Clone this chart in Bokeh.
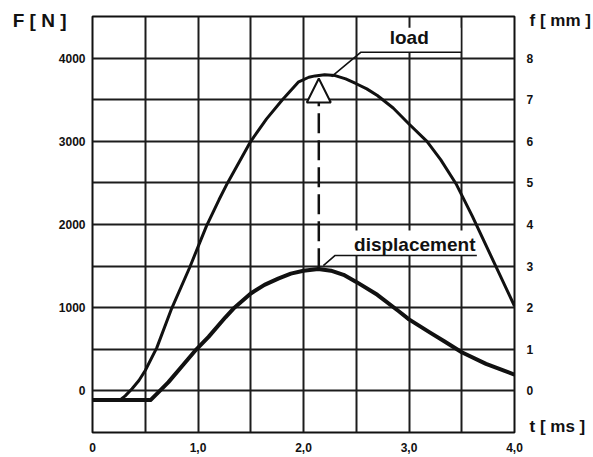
from bokeh.plotting import figure
from bokeh.models import Range1d, LinearAxis, FixedTicker, Label, Arrow, NormalHead
from bokeh.embed import file_html
from bokeh.resources import INLINE
import numpy as np

# ---------------- data ----------------
# load F [N] versus time t [ms]
load_t = [0.0, 0.1, 0.2, 0.265, 0.31, 0.375, 0.44, 0.5, 0.61, 0.75, 0.92, 1.08, 1.2,
          1.28, 1.5, 1.65, 1.8, 1.95, 2.05, 2.11, 2.2, 2.3, 2.4, 2.5, 2.6, 2.7,
          2.85, 3.0, 3.17, 3.3, 3.45, 3.6, 3.8, 4.0]
load_n = [-110, -110, -110, -105, -60, 25, 125, 245, 520, 990, 1480, 1980, 2300,
          2500, 3000, 3270, 3500, 3710, 3770, 3786, 3800, 3790, 3750, 3692, 3630, 3551,
          3400, 3208, 3000, 2780, 2480, 2100, 1560, 1020]

# displacement f [mm] versus time t [ms]
disp_t = [0.0, 0.3, 0.55, 0.626, 0.72, 0.85, 0.985, 1.1, 1.26, 1.345, 1.5, 1.63,
          1.76, 1.88, 2.0, 2.14, 2.26, 2.38, 2.5, 2.7, 2.9, 3.0, 3.2, 3.33, 3.5,
          3.73, 4.0]
disp_mm = [-0.22, -0.22, -0.22, -0.03, 0.21, 0.6, 1.0, 1.3, 1.77, 2.0, 2.34, 2.55,
           2.70, 2.82, 2.89, 2.93, 2.89, 2.79, 2.62, 2.31, 1.92, 1.72, 1.40, 1.20, 0.93,
           0.65, 0.39]

x_tick_values = [0, 1, 2, 3, 4]
x_tick_labels = ["0", "1,0", "2,0", "3,0", "4,0"]
f_tick_values = [0, 1000, 2000, 3000, 4000]
mm_tick_values = [0, 1, 2, 3, 4, 5, 6, 7, 8]

# axis titles
f_title = "F [ N ]"
mm_title = "f [ mm ]"
t_title = "t [ ms ]"

# ---------------- figure ----------------
INK = "#111111"
FONT = "Liberation Sans"

p = figure(width=593, height=457,
           x_range=Range1d(0, 4), y_range=Range1d(-500, 4500),
           output_backend="svg", toolbar_location=None,
           min_border_left=92, min_border_right=75,
           min_border_top=16, min_border_bottom=25,
           background_fill_color="white", border_fill_color="white")
p.extra_y_ranges = {"mm": Range1d(-1, 9)}

p.outline_line_color = INK
p.outline_line_width = 2

p.xgrid.ticker = FixedTicker(ticks=list(np.arange(0, 4.01, 0.5)))
p.ygrid.ticker = FixedTicker(ticks=list(np.arange(-500, 4501, 500)))
for g in (p.xgrid, p.ygrid):
    g.grid_line_color = "#1c1c1c"
    g.grid_line_width = 2
    g.grid_line_alpha = 1.0

def style_axis(ax, standoff, size="12px"):
    ax.axis_line_color = None
    ax.major_tick_line_color = None
    ax.minor_tick_line_color = None
    ax.major_tick_in = 0
    ax.major_tick_out = 0
    ax.minor_tick_in = 0
    ax.minor_tick_out = 0
    ax.major_label_text_font = FONT
    ax.major_label_text_font_style = "bold"
    ax.major_label_text_font_size = size
    ax.major_label_text_color = INK
    ax.major_label_standoff = standoff

p.xaxis.ticker = FixedTicker(ticks=x_tick_values)
p.xaxis.major_label_overrides = {v: s for v, s in zip(x_tick_values, x_tick_labels)}
style_axis(p.xaxis[0], 10)

p.yaxis.ticker = FixedTicker(ticks=f_tick_values)
style_axis(p.yaxis[0], 7)

right = LinearAxis(y_range_name="mm", ticker=FixedTicker(ticks=mm_tick_values))
style_axis(right, 12)
p.add_layout(right, "right")

# axis titles, written as the single labels of outer axes
f_pos = 4452      # N, level of the "F [ N ]" title
mm_pos = 8.904    # mm, level of the "f [ mm ]" title
t_pos = -0.844    # mm, level of the "t [ ms ]" title

left_title = LinearAxis(ticker=FixedTicker(ticks=[f_pos]))
left_title.major_label_overrides = {f_pos: f_title}
style_axis(left_title, -11, "19px")
p.add_layout(left_title, "left")

right_title = LinearAxis(y_range_name="mm", ticker=FixedTicker(ticks=[mm_pos, t_pos]))
right_title.major_label_overrides = {mm_pos: mm_title, t_pos: t_title}
style_axis(right_title, -7, "17px")
p.add_layout(right_title, "right")

# white boxes behind the callout texts (hide the grid)
p.quad(left=[2.545, 2.300], right=[3.488, 3.643], top=[4364, 1928], bottom=[4071, 1628],
       fill_color="white", line_color=None)

# curves
p.line(load_t, load_n, line_color=INK, line_width=3, line_join="round")
p.line(disp_t, disp_mm, y_range_name="mm", line_color=INK, line_width=4, line_join="round")

# callout underlines and leaders
p.line([2.266, 2.545, 3.5], [3778, 4071, 4071], line_color=INK, line_width=1.6)
p.line([2.188, 2.300, 3.643], [1507, 1628, 1628], line_color=INK, line_width=1.6)

# dashed arrow from displacement peak to load peak
p.add_layout(Arrow(end=NormalHead(size=24, fill_color="white", line_color=INK, line_width=2),
                   x_start=2.145, y_start=1475, x_end=2.145, y_end=3755,
                   line_color=INK, line_width=2.5, line_dash="20 7"))

def add_text(x, y, txt, size):
    p.add_layout(Label(x=x, y=y, text=txt,
                       text_font=FONT, text_font_style="bold",
                       text_font_size=size, text_color=INK,
                       text_align="left", text_baseline="alphabetic"))

add_text(2.817, 4253, "load", "19px")
add_text(2.479, 1765, "displacement", "19px")

open("out.html", "w").write(file_html(p, INLINE))
